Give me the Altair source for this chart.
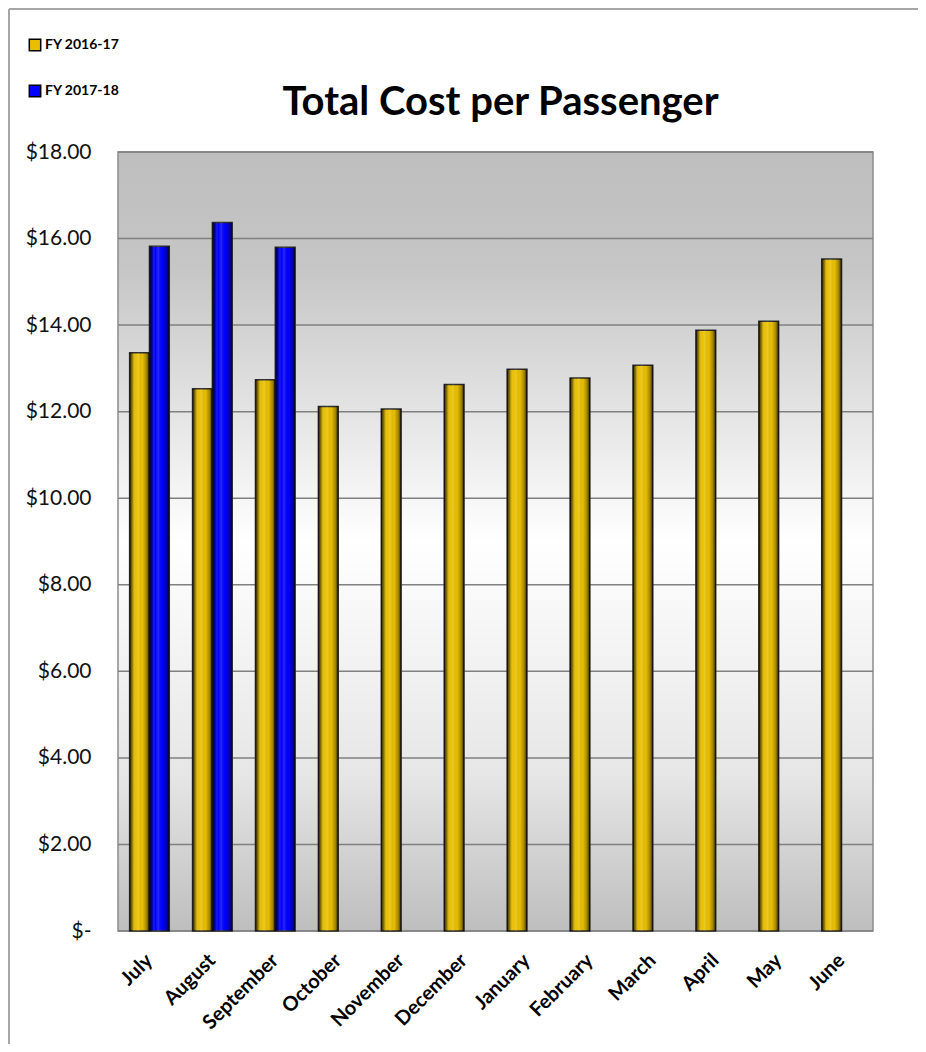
import altair as alt
import pandas as pd

months = ["July", "August", "September", "October", "November", "December",
          "January", "February", "March", "April", "May", "June"]
fy1617 = [13.36, 12.53, 12.74, 12.12, 12.06, 12.63, 12.98, 12.78, 13.07, 13.88, 14.09, 15.53]
fy1718 = [15.82, 16.37, 15.80, None, None, None, None, None, None, None, None, None]
series_names = ["FY 2016-17", "FY 2017-18"]
series_colors = ["#E9BF00", "#0000FF"]
y_ticks = [0, 2, 4, 6, 8, 10, 12, 14, 16, 18]

rows = []
for m, a, b in zip(months, fy1617, fy1718):
    rows.append({"month": m, "series": series_names[0], "value": a})
    if b is not None:
        rows.append({"month": m, "series": series_names[1], "value": b})
df = pd.DataFrame(rows)
grid_df = pd.DataFrame({"value": y_ticks})
one = pd.DataFrame({"a": [0]})

W, H = 755, 779
FONT = "Lato"

yenc = alt.Y(
    "value:Q",
    scale=alt.Scale(domain=[0, 18], nice=False, zero=True),
    axis=alt.Axis(
        values=y_ticks, grid=False, ticks=False, domain=False, title=None,
        labelExpr="datum.value == 0 ? '$-\u00a0\u00a0\u00a0\u00a0' : '$' + format(datum.value, '.2f')",
        labelFont=FONT, labelFontSize=21, labelColor="#111111", labelPadding=27,
    ),
)
xenc = alt.X(
    "month:N", sort=months,
    scale=alt.Scale(paddingInner=0.37, paddingOuter=0.185),
    axis=alt.Axis(
        title=None, ticks=False, domain=False, labelAngle=-45,
        labelFont=FONT, labelFontSize=20, labelFontWeight="bold", labelColor="#000000",
        labelPadding=26, labelAlign="right", labelBaseline="middle",
    ),
)
xoff = alt.XOffset("series:N", sort=series_names)

frame_top = alt.Chart(one).mark_rule(color="#A6A6A6", strokeWidth=2).encode(
    x=alt.value(-109), x2=alt.value(W + 60), y=alt.value(-143)
)
frame_left = alt.Chart(one).mark_rule(color="#A6A6A6", strokeWidth=2).encode(
    x=alt.value(-109), y=alt.value(-143), y2=alt.value(H + 120)
)

bg_grad = alt.LinearGradient(
    gradient="linear", x1=0, y1=0, x2=0, y2=1,
    stops=[
        alt.GradientStop(offset=0, color="#BEBEBE"),
        alt.GradientStop(offset=0.15, color="#C6C6C6"),
        alt.GradientStop(offset=0.5, color="#FFFFFF"),
        alt.GradientStop(offset=0.8, color="#E6E6E6"),
        alt.GradientStop(offset=1, color="#BEBEBE"),
    ],
)
background = alt.Chart(one).mark_rect(fill=bg_grad, stroke="#8C8C8C", strokeWidth=1.5).encode(
    x=alt.value(0), x2=alt.value(W), y=alt.value(0), y2=alt.value(H)
)

grid = alt.Chart(grid_df).mark_rule(color="#808080", strokeWidth=1.5).encode(
    y=yenc, x=alt.value(0), x2=alt.value(W)
)

bars = alt.Chart(df).mark_bar(stroke="#2E2E2E", strokeWidth=1.5).encode(
    x=xenc, xOffset=xoff, y=yenc,
    color=alt.Color(
        "series:N",
        scale=alt.Scale(domain=series_names, range=series_colors),
        legend=alt.Legend(
            title=None, orient="none", legendX=-90, legendY=-114, padding=0,
            symbolType="square", symbolSize=130, symbolStrokeColor="#000000",
            symbolStrokeWidth=1.5, symbolOpacity=1, labelFont=FONT, labelFontSize=14,
            labelFontWeight="bold", labelColor="#000000", rowPadding=28, labelOffset=3,
        ),
    ),
)

shade = alt.LinearGradient(
    gradient="linear", x1=0, y1=0, x2=1, y2=0,
    stops=[
        alt.GradientStop(offset=0, color="rgba(0,0,0,0.8)"),
        alt.GradientStop(offset=0.14, color="rgba(0,0,0,0.35)"),
        alt.GradientStop(offset=0.3, color="rgba(255,255,255,0.0)"),
        alt.GradientStop(offset=0.45, color="rgba(255,255,255,0.15)"),
        alt.GradientStop(offset=0.65, color="rgba(0,0,0,0.0)"),
        alt.GradientStop(offset=0.86, color="rgba(0,0,0,0.3)"),
        alt.GradientStop(offset=1, color="rgba(0,0,0,0.8)"),
    ],
)
overlay = alt.Chart(df).mark_bar(fill=shade, strokeWidth=0).encode(
    x=xenc, xOffset=xoff, y=yenc
)

chart = alt.layer(frame_top, frame_left, background, grid, bars, overlay).properties(
    width=W, height=H,
    padding={"left": 110, "top": 144, "right": 45, "bottom": 113},
    autosize=alt.AutoSizeParams(type="none"),
    title=alt.TitleParams(
        "Total Cost per Passenger", font=FONT, fontSize=40, fontWeight="bold",
        color="#000000", anchor="middle", frame="group", orient="top",
        baseline="alphabetic", offset=0, dy=147, dx=5,
    ),
    background="white",
).configure_view(stroke=None)

chart.save("out.html", embed_options={"renderer": "svg", "actions": False})
